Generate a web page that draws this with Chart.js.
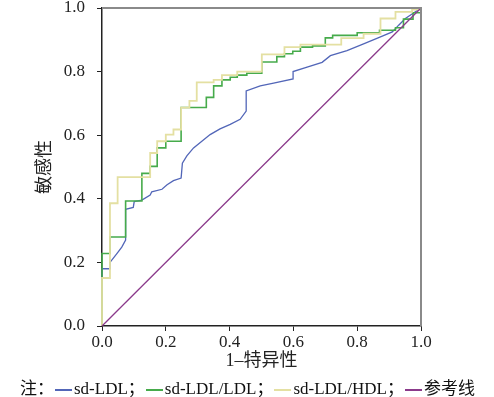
<!DOCTYPE html>
<html>
<head>
<meta charset="utf-8">
<script src="https://cdn.jsdelivr.net/npm/chart.js@4"></script>
<style>
    body { margin: 0; background: #fff; }
    .wrap { position: relative; width: 494px; height: 397px; }
    .legend {
        position: absolute; left: 20px; top: 374px;
        font: 17px "Liberation Serif", "Noto Sans CJK SC", serif;
        color: #111; white-space: nowrap;
    }
    .legend .bar { display: inline-block; width: 17px; height: 2px; vertical-align: middle; margin: 0 2px 0 1px; }
</style>
</head>
<body>
<div class="wrap">
    <canvas id="roc" width="494" height="397"></canvas>
    <div class="legend" id="legend"></div>
</div>
<script>
// ROC curves: x = 1-特异性, y = 敏感性
const ldlX = [0, 0, 0.025, 0.025, 0.046, 0.062, 0.074, 0.074, 0.098, 0.101, 0.125, 0.151, 0.156, 0.188, 0.204, 0.224, 0.248, 0.252, 0.266, 0.287, 0.313, 0.339, 0.370, 0.402, 0.433, 0.452, 0.452, 0.496, 0.538, 0.599, 0.599, 0.643, 0.690, 0.716, 0.768, 0.820, 0.873, 0.910, 0.930, 0.951, 1];
const ldlY = [0, 0.180, 0.180, 0.200, 0.227, 0.248, 0.270, 0.367, 0.373, 0.391, 0.396, 0.412, 0.422, 0.430, 0.444, 0.457, 0.465, 0.512, 0.535, 0.560, 0.581, 0.602, 0.620, 0.634, 0.650, 0.676, 0.739, 0.755, 0.764, 0.777, 0.800, 0.814, 0.829, 0.850, 0.866, 0.887, 0.909, 0.925, 0.946, 0.967, 1];

// step curves: each point is the top of a vertical jump
const ratioLdlX = [0, 0, 0.025, 0.074, 0.125, 0.151, 0.173, 0.200, 0.248, 0.327, 0.350, 0.376, 0.402, 0.424, 0.454, 0.501, 0.548, 0.572, 0.598, 0.622, 0.660, 0.700, 0.723, 0.800, 0.870, 0.920, 0.945, 0.975, 1];
const ratioLdlY = [0, 0.228, 0.280, 0.393, 0.480, 0.502, 0.560, 0.581, 0.687, 0.719, 0.755, 0.774, 0.782, 0.789, 0.795, 0.830, 0.847, 0.856, 0.864, 0.877, 0.881, 0.906, 0.914, 0.922, 0.930, 0.938, 0.965, 0.985, 1];

const ratioHdlX = [0, 0, 0.025, 0.049, 0.151, 0.173, 0.200, 0.224, 0.248, 0.274, 0.297, 0.350, 0.376, 0.424, 0.501, 0.572, 0.622, 0.750, 0.820, 0.873, 0.920, 0.972, 1];
const ratioHdlY = [0, 0.151, 0.386, 0.468, 0.544, 0.581, 0.602, 0.618, 0.687, 0.708, 0.766, 0.774, 0.789, 0.800, 0.854, 0.877, 0.885, 0.905, 0.919, 0.967, 0.988, 0.995, 1];

const refX = [0, 1];
const refY = [0, 1];

const seriesNames = ["sd-LDL", "sd-LDL/LDL", "sd-LDL/HDL", "参考线"];
const seriesColors = ["#5266b8", "#46ab4b", "#e4e0a2", "#8b3a8b"];
const tickValues = [0, 0.2, 0.4, 0.6, 0.8, 1.0];

const toPoints = (xs, ys) => xs.map((x, i) => ({ x: x, y: ys[i] }));

// gray frame on the top and right sides
const framePlugin = {
    id: "frame",
    afterDraw(chart) {
        const { ctx, chartArea: a } = chart;
        ctx.save();
        ctx.strokeStyle = "#8a8a8a";
        ctx.lineWidth = 2;
        ctx.beginPath();
        ctx.moveTo(a.left, a.top);
        ctx.lineTo(a.right, a.top);
        ctx.lineTo(a.right, a.bottom);
        ctx.stroke();
        ctx.restore();
    }
};

const serif = "'Liberation Serif', 'Noto Sans CJK SC', serif";

new Chart(document.getElementById("roc"), {
    type: "scatter",
    data: {
        datasets: [
            { label: seriesNames[0], data: toPoints(ldlX, ldlY), borderColor: seriesColors[0], borderWidth: 1.3, order: 4 },
            { label: seriesNames[1], data: toPoints(ratioLdlX, ratioLdlY), borderColor: seriesColors[1], borderWidth: 1.6, stepped: "before", order: 3 },
            { label: seriesNames[2], data: toPoints(ratioHdlX, ratioHdlY), borderColor: seriesColors[2], borderWidth: 1.8, stepped: "before", order: 2 },
            { label: seriesNames[3], data: toPoints(refX, refY), borderColor: seriesColors[3], borderWidth: 1.3, order: 1 }
        ].map(d => Object.assign(d, { showLine: true, pointRadius: 0, fill: false, clip: false, tension: 0 }))
    },
    options: {
        responsive: false,
        animation: false,
        layout: { padding: { left: 34, right: 73, top: 8, bottom: 25 } },
        plugins: { legend: { display: false }, tooltip: { enabled: false } },
        scales: {
            x: {
                type: "linear", min: 0, max: 1,
                afterFit: s => { s.height = 46; s.paddingLeft = 0; s.paddingRight = 0; },
                afterBuildTicks: s => { s.ticks = tickValues.map(v => ({ value: v })); },
                ticks: { font: { family: serif, size: 17 }, color: "#222", padding: 1, callback: v => v.toFixed(1) },
                grid: { drawOnChartArea: false, tickLength: 5, color: "#222" },
                border: { color: "#222", width: 1.5 },
                title: { display: true, text: "1–特异性", font: { family: serif, size: 18 }, color: "#222", padding: 0 }
            },
            y: {
                type: "linear", min: 0, max: 1,
                afterFit: s => { s.width = 68; s.paddingTop = 0; s.paddingBottom = 0; },
                afterBuildTicks: s => { s.ticks = tickValues.map(v => ({ value: v })); },
                ticks: { font: { family: serif, size: 17 }, color: "#222", padding: 12, callback: v => v.toFixed(1) },
                grid: { drawOnChartArea: false, tickLength: 5, color: "#222" },
                border: { color: "#222", width: 1.5 },
                title: { display: true, text: "敏感性", font: { family: serif, size: 18 }, color: "#222", padding: 0 }
            }
        }
    },
    plugins: [framePlugin]
});

// legend below the chart, with the 注： prefix
document.getElementById("legend").innerHTML = "注：" + seriesNames.map((name, i) =>
    `<span class="bar" style="background:${seriesColors[i]}"></span>${name}`
).join("；");
</script>
</body>
</html>
